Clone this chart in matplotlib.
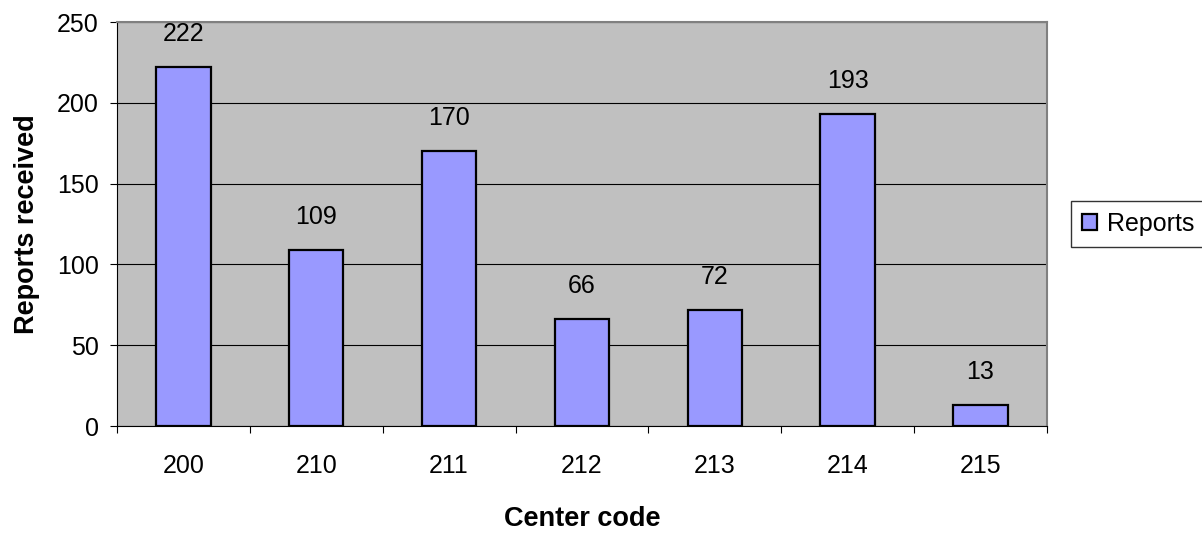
import matplotlib.pyplot as plt
import numpy as np

plt.rcParams['font.family'] = ['Liberation Sans', 'DejaVu Sans']

centers = ['200', '210', '211', '212', '213', '214', '215']
reports = [222, 109, 170, 66, 72, 193, 13]

fig = plt.figure(figsize=(12.02, 5.38), dpi=100)
ax = fig.add_axes([0.0973, 0.208, 0.7737, 0.751])
ax.set_facecolor('#c0c0c0')

x = np.arange(len(centers))
bars = ax.bar(x, reports, width=0.41, color='#9999ff', edgecolor='black',
              linewidth=1.6, label='Reports', zorder=3)
for xi, v in zip(x, reports):
    ax.text(xi, v + 13, str(v), ha='center', va='bottom', fontsize=18)

ax.set_xlim(-0.5, len(centers) - 0.5)
ax.set_ylim(0, 250)
ax.set_yticks(np.arange(0, 251, 50))
ax.yaxis.grid(True, color='black', linewidth=0.8, zorder=1)
ax.set_axisbelow(True)

ax.set_xticks(np.arange(-0.5, len(centers), 1))
ax.set_xticklabels([])
ax.set_xticks(x, minor=True)
ax.set_xticklabels(centers, minor=True, fontsize=18)
ax.tick_params(axis='x', which='minor', length=0, pad=20)
ax.tick_params(axis='x', which='major', length=5, direction='out')
ax.tick_params(axis='y', length=5, direction='out', labelsize=18, pad=8)

for s in ['top', 'right']:
    ax.spines[s].set_color('#808080')
    ax.spines[s].set_linewidth(1.5)
ax.spines['left'].set_color('black')
ax.spines['bottom'].set_color('black')

ax.set_xlabel('Center code', fontsize=19.5, fontweight='bold', labelpad=20)
ax.set_ylabel('Reports received', fontsize=19.5, fontweight='bold', labelpad=12)

leg = ax.legend(loc='center left', bbox_to_anchor=(1.026, 0.5), fontsize=18,
                frameon=True, fancybox=False, edgecolor='black',
                handlelength=0.6, handleheight=0.6, handletextpad=0.4,
                borderpad=0.45, borderaxespad=0)
leg.get_frame().set_linewidth(1.0)

fig.savefig('out.png', dpi=100)
